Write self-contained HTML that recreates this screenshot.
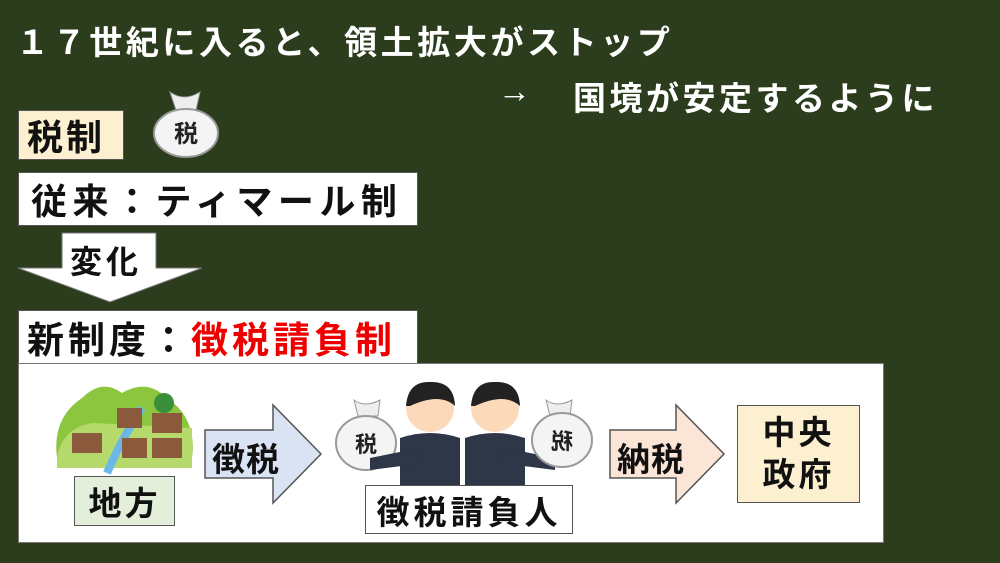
<!DOCTYPE html>
<html><head><meta charset="utf-8"><style>
body{margin:0;width:1000px;height:563px;background:#2b3d1c;position:relative;overflow:hidden;font-family:"Liberation Sans","Noto Sans CJK JP",sans-serif;font-weight:bold}
.a{position:absolute}
.t{color:#fff;font-size:33px;white-space:nowrap}
.box{position:absolute;border:1.5px solid #555;box-sizing:border-box;color:#111;display:flex;align-items:center;white-space:nowrap}
</style></head><body>
<div class="a t" style="left:16px;top:16px;letter-spacing:3.6px">１７世紀に入ると、領土拡大がストップ</div>
<div class="a t" style="left:498px;top:72px">→</div>
<div class="a t" style="left:573px;top:72px;letter-spacing:3.5px">国境が安定するように</div>
<div class="box" style="left:18px;top:110px;width:106px;height:50px;background:#fdf0d0;font-size:36px;padding-left:8px;letter-spacing:3px">税制</div>
<svg class="a" style="left:146px;top:88px" width="80" height="72"><path d="M24 4 Q38 14 54 4 L50 22 Q40 26 30 22Z" fill="#eee" stroke="#999"/><ellipse cx="40" cy="45" rx="32" ry="24" fill="#f4f4f4" stroke="#999" stroke-width="2"/><text x="40" y="54" font-size="24" text-anchor="middle" fill="#222" font-weight="bold">税</text></svg>
<div class="box" style="left:18px;top:172px;width:400px;height:54px;background:#fff;font-size:36px;padding-left:12px;letter-spacing:5.5px">従来：ティマール制</div>
<svg class="a" style="left:16px;top:230px" width="190" height="75"><polygon points="46,3 140,3 140,38 186,38 94,72 2,38 46,38" fill="#fff" stroke="#777"/></svg>
<div class="a" style="left:70px;top:237px;font-size:32px;color:#111;letter-spacing:4px">変化</div>
<div class="box" style="left:18px;top:310px;width:400px;height:54px;background:#fff;font-size:37px;padding-left:8px;letter-spacing:4px">新制度：<span style="color:#e00">徴税請負制</span></div>
<div class="a" style="left:18px;top:363px;width:866px;height:180px;background:#fff;border:1px solid #777;box-sizing:border-box"></div>
<svg class="a" style="left:52px;top:378px" width="148" height="100"><path d="M5 80 Q0 40 30 20 Q50 0 70 15 Q95 0 115 20 Q145 40 140 80 Z" fill="#8cc63f"/><path d="M5 80 Q10 50 40 45 L140 50 L140 90 L5 90Z" fill="#b5d96a"/><path d="M90 30 Q70 60 55 95" stroke="#6ab7e8" stroke-width="8" fill="none"/><g fill="#8b5a3c"><rect x="20" y="55" width="30" height="20"/><rect x="100" y="35" width="30" height="20"/><rect x="100" y="60" width="30" height="20"/><rect x="70" y="60" width="25" height="20"/><rect x="65" y="30" width="25" height="20"/></g><circle cx="112" cy="25" r="10" fill="#3a8f3a"/></svg>
<div class="box" style="left:74px;top:476px;width:101px;height:50px;background:#e4efdb;font-size:33px;justify-content:center;letter-spacing:3px">地方</div>
<svg class="a" style="left:203px;top:403px" width="122" height="104"><polygon points="2,27 70,27 70,2 118,51 70,100 70,75 2,75" fill="#dae3f3" stroke="#555" stroke-width="1.5"/></svg>
<div class="a" style="left:212px;top:433px;font-size:33px;color:#111;letter-spacing:1px">徴税</div>
<svg class="a" style="left:330px;top:378px" width="265" height="110"><g><path d="M24 22 Q35 30 50 22 L48 38 L28 38Z" fill="#eee" stroke="#999"/><ellipse cx="36" cy="65" rx="30" ry="27" fill="#f4f4f4" stroke="#999" stroke-width="2"/><text x="36" y="74" font-size="22" text-anchor="middle" fill="#222" font-weight="bold">税</text></g><circle cx="100" cy="30" r="24" fill="#fcd9b8"/><path d="M76 28 Q78 3 100 4 Q124 3 125 28 Q110 14 80 28Z" fill="#222"/><path d="M70 60 Q100 50 130 60 L130 110 L70 110Z" fill="#2d3748"/><path d="M40 80 L90 70 L95 85 L40 92Z" fill="#2d3748"/><circle cx="165" cy="30" r="24" fill="#fcd9b8"/><path d="M141 28 Q143 3 165 4 Q189 3 190 28 Q175 14 145 28Z" fill="#222"/><path d="M135 60 Q165 50 195 60 L195 110 L135 110Z" fill="#2d3748"/><path d="M175 70 L225 80 L225 92 L170 85Z" fill="#2d3748"/><g><path d="M216 22 Q227 30 242 22 L240 38 L220 38Z" fill="#eee" stroke="#999"/><ellipse cx="232" cy="62" rx="30" ry="27" fill="#f4f4f4" stroke="#999" stroke-width="2"/><text x="232" y="71" font-size="22" text-anchor="middle" fill="#222" font-weight="bold" transform="scale(-1,1) translate(-464,0)">税</text></g></svg>
<div class="box" style="left:365px;top:485px;width:208px;height:49px;background:#fff;font-size:33px;justify-content:center;letter-spacing:4px">徴税請負人</div>
<svg class="a" style="left:608px;top:403px" width="122" height="104"><polygon points="2,27 68,27 68,2 116,51 68,100 68,75 2,75" fill="#fbe5d6" stroke="#555" stroke-width="1.5"/></svg>
<div class="a" style="left:617px;top:433px;font-size:33px;color:#111;letter-spacing:1px">納税</div>
<div class="box" style="left:737px;top:405px;width:123px;height:98px;background:#fdf0d0;font-size:33px;justify-content:center;text-align:center;white-space:normal;line-height:42px;letter-spacing:3px">中央<br>政府</div>
</body></html>
